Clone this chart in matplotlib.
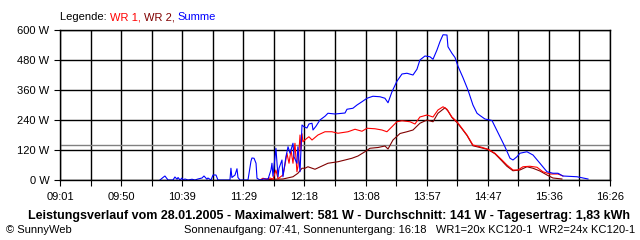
import numpy as np
import matplotlib
matplotlib.use("Agg")
from matplotlib import pyplot as plt

plt.rcParams['font.family'] = ['Liberation Sans', 'DejaVu Sans']

# time axis: minutes after 09:01
t_start = 9 * 60 + 1
t_end = 16 * 60 + 26
tick_labels = ["09:01", "09:50", "10:39", "11:29", "12:18",
               "13:08", "13:57", "14:47", "15:36", "16:26"]
y_ticks = [0, 120, 240, 360, 480, 600]
average = 141

# Summe (blue)
sum_t = [80.9, 83.3, 84.9, 87.4, 91.4, 93.0, 94.7, 95.5, 97.1, 98.7,
         99.5, 101.1, 103.6, 106.8, 109.2, 111.6, 114.9, 116.5, 118.9, 119.7,
         122.2, 123.8, 126.2, 127.8, 137.5, 138.3, 139.1, 141.6, 143.2, 144.0,
         145.6, 152.1, 154.5, 155.3, 157.0, 158.6, 159.4, 161.8, 165.8, 168.3,
         170.7, 171.5, 172.3, 173.1, 174.7, 176.4, 177.2, 179.6, 180.4, 182.8,
         184.5, 186.1, 188.5, 189.3, 191.7, 192.5, 194.2, 195.8, 197.4, 199.8,
         201.4, 203.9, 204.7, 207.1, 210.3, 214.4, 216.8, 222.5, 230.6, 232.2,
         237.0, 240.3, 244.3, 248.4, 253.2, 258.9, 262.9, 265.4, 268.6, 272.6,
         276.7, 280.7, 285.6, 288.8, 291.2, 295.3, 299.3, 301.8, 305.0, 307.4,
         309.9, 313.1, 313.9, 317.1, 319.6, 322.0, 326.0, 330.1, 334.1, 337.4,
         339.8, 343.8, 349.5, 356.0, 360.0, 364.1, 366.5, 369.7, 372.1, 377.8,
         382.7, 388.3, 394.0, 398.8, 402.9, 406.9, 418.3, 427.2]
sum_w = [0, 10, 16, 0, 0, 12, 3, 10, 0, 8,
         0, 4, 0, 3, 0, 4, 8, 16, 3, 8,
         0, 20, 20, 0, 0, 47, 10, 20, 45, 10,
         0, 0, 75, 88, 87, 67, 7, 0, 5, 3,
         40, 67, 15, 53, 127, 13, 47, 80, 13, 93,
         133, 107, 147, 93, 67, 133, 33, 220, 213, 208,
         224, 227, 200, 215, 240, 255, 267, 264, 268, 283,
         287, 300, 313, 327, 335, 333, 327, 309, 353, 395,
         424, 427, 420, 443, 480, 496, 493, 483, 520, 553,
         581, 580, 533, 507, 490, 455, 410, 360, 300, 267,
         258, 244, 238, 173, 133, 87, 80, 93, 107, 113,
         100, 67, 33, 27, 27, 16, 13, 4]

# WR 1 (red)
wr1_t = [161.8, 164.2, 166.7, 169.9, 172.3, 174.7, 176.4, 180.4, 182.0, 183.6,
         185.3, 186.9, 188.5, 190.1, 191.7, 192.5, 194.2, 195.0, 195.8, 196.6,
         198.2, 199.8, 201.4, 203.9, 208.7, 214.4, 220.0, 224.9, 233.0, 238.7,
         244.3, 248.4, 254.8, 260.5, 264.5, 268.6, 272.6, 276.7, 283.2, 287.2,
         291.2, 296.9, 301.8, 305.8, 309.9, 313.1, 317.1, 321.2, 325.2, 329.3,
         334.1, 339.8, 346.3, 351.9, 357.6, 361.6, 366.5, 370.5, 374.6, 380.2,
         385.9, 390.7, 396.4, 402.9, 406.9]
wr1_w = [0, 7, 3, 8, 3, 40, 5, 20, 60, 107,
         67, 120, 67, 147, 33, 53, 180, 120, 185, 153,
         160, 167, 173, 160, 180, 193, 193, 187, 193, 203,
         195, 207, 205, 200, 193, 213, 233, 237, 233, 224,
         252, 260, 252, 280, 293, 283, 252, 233, 207, 180,
         140, 133, 123, 107, 80, 60, 40, 40, 53, 55,
         51, 33, 24, 24, 16]

# WR 2 (dark red)
wr2_t = [165.8, 172.3, 180.4, 188.5, 192.5, 195.8, 198.2, 200.6, 206.3, 212.0,
         216.8, 224.9, 230.6, 236.2, 241.1, 246.7, 250.8, 257.3, 262.9, 265.4,
         269.4, 275.1, 280.7, 285.6, 291.2, 296.9, 301.8, 305.8, 311.5, 313.9,
         317.1, 321.2, 325.2, 329.3, 334.1, 339.8, 346.3, 351.9, 357.6, 361.6,
         366.5, 372.1, 377.8, 382.7, 388.3, 394.0, 398.8, 406.1]
wr2_w = [0, 3, 4, 13, 27, 47, 47, 53, 43, 56,
         67, 73, 80, 87, 96, 113, 127, 130, 136, 124,
         160, 186, 193, 200, 227, 240, 233, 267, 289, 276,
         250, 230, 205, 178, 137, 130, 122, 105, 76, 55,
         37, 40, 53, 47, 36, 20, 8, 4]


def colored_text(fig, x, y, parts, **kw):
    renderer = fig.canvas.get_renderer()
    for s, c in parts:
        t = fig.text(x, y, s, color=c, **kw)
        bb = t.get_window_extent(renderer)
        x += bb.width / fig.bbox.width


def main():
    fig = plt.figure(figsize=(6.4, 2.4), dpi=100)
    ax = fig.add_axes([60 / 640, 60 / 240, 550 / 640, 150 / 240])

    span = t_end - t_start
    grid_x = np.linspace(0, span, 19)
    for gx in grid_x:
        ax.axvline(gx, color='black', lw=1.0)
    for gy in y_ticks:
        ax.axhline(gy, color='black', lw=1.0)
    ax.axhline(average, color='#808080', lw=1.0)

    ax.plot(wr2_t, wr2_w, color='#800000', lw=0.8)
    ax.plot(wr1_t, wr1_w, color='#ff0000', lw=0.8)
    ax.plot(sum_t, sum_w, color='#0000ff', lw=0.8)

    ax.set_xlim(0, span)
    ax.set_ylim(0, 600)
    ax.set_xticks(grid_x[::2])
    ax.set_xticklabels(tick_labels)
    ax.set_xticks(grid_x, minor=True)
    ax.set_yticks(y_ticks)
    ax.set_yticklabels([f"{v} W" for v in y_ticks])
    ax.tick_params(axis='x', which='both', length=4, width=0.8, pad=5,
                   labelsize=8, direction='out')
    ax.tick_params(axis='y', length=4, width=0.8, pad=3.5, labelsize=8)
    for s in ax.spines.values():
        s.set_linewidth(1.0)

    colored_text(fig, 60 / 640, 1 - 20 / 240,
                 [("Legende: ", 'black'), ("WR 1, ", '#ff0000'),
                  ("WR 2, ", '#800000'), ("Summe", '#0000ff')],
                 fontsize=8)

    fig.text(329 / 640, 1 - 216 / 240,
             "Leistungsverlauf vom 28.01.2005 - Maximalwert: 581 W - "
             "Durchschnitt: 141 W - Tagesertrag: 1,83 kWh",
             ha='center', va='center', fontsize=9, fontweight='bold')
    fig.text(6 / 640, 1 - 230 / 240, "\u00a9 SunnyWeb",
             ha='left', va='center', fontsize=8)
    fig.text(635 / 640, 1 - 230 / 240,
             "Sonnenaufgang: 07:41, Sonnenuntergang: 16:18   "
             "WR1=20x KC120-1  WR2=24x KC120-1",
             ha='right', va='center', fontsize=8)

    fig.savefig("out.png", dpi=100)


if __name__ == "__main__":
    main()
